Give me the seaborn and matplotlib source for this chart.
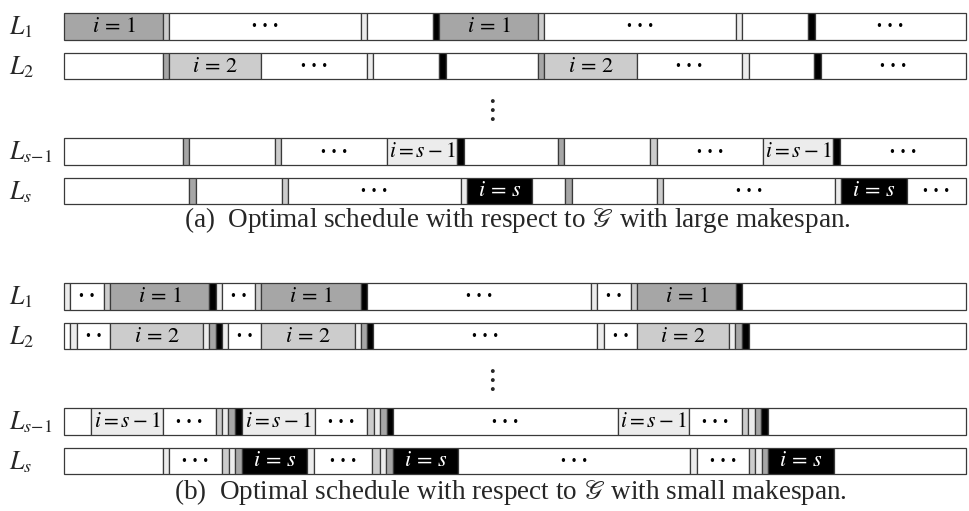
import numpy as np
import matplotlib
matplotlib.use("Agg")
import matplotlib.pyplot as plt
import seaborn as sns

# job shades: A = job 1, B = job 2, C = job s-1, K = job s, W = idle/other
shade = {"A": "#a6a6a6", "B": "#cccccc", "C": "#ececec", "K": "#000000", "W": "#ffffff"}

row_names = ["$L_1$", "$L_2$", "$L_{s\\!-\\!1}$", "$L_s$"]

# (a) large makespan: segment boundaries, fills and labels per machine
a_cuts = [
    [64, 163, 169, 361, 367, 433, 439, 538, 544, 736, 742, 808, 815, 966],
    [64, 163, 169, 261, 367, 373, 439, 446, 538, 544, 637, 742, 749, 814, 821, 966],
    [64, 183, 189, 275, 281, 387, 457, 464, 558, 564, 650, 657, 763, 833, 840, 966],
    [64, 189, 196, 282, 288, 461, 467, 532, 565, 572, 657, 663, 835, 841, 907, 966],
]
a_fill = [
    "ABWCWKABWCWKW",
    "WABWCWKWABWCWKW",
    "WAWBWCKWAWBWCKW",
    "WAWBWCKWAWBWCKW",
]
a_text = [
    ["i=1", "", "...", "", "", "", "i=1", "", "...", "", "", "", "..."],
    ["", "", "i=2", "...", "", "", "", "", "", "i=2", "...", "", "", "", "..."],
    ["", "", "", "", "...", "i=s-1", "", "", "", "", "", "...", "i=s-1", "", "..."],
    ["", "", "", "", "...", "", "i=s", "", "", "", "", "...", "", "i=s", "..."],
]

# (b) small makespan
b_cuts = [
    [64, 70, 104, 110, 209, 216, 222, 255, 261, 361, 367, 591, 597, 631, 637, 736, 742, 966],
    [64, 70, 77, 110, 203, 209, 216, 222, 228, 261, 355, 361, 367, 373, 597, 604, 637, 729, 735, 742, 749, 966],
    [64, 91, 163, 216, 222, 228, 235, 242, 315, 367, 374, 380, 387, 393, 618, 689, 742, 748, 755, 761, 768, 966],
    [64, 163, 169, 222, 229, 235, 242, 307, 314, 372, 380, 386, 393, 458, 690, 697, 749, 755, 762, 768, 834, 966],
]
b_fill = [
    "CWBAKCWBAKWCWBAKW",
    "WCWBCAKCWBCAKWCWBCAKW",
    "WCWBCAKCWBCAKWCWBCAKW",
    "WCWBCAKCWBCAKWCWBCAKW",
]
b_text = [
    ["", "..", "", "i=1", "", "", "..", "", "i=1", "", "...", "", "..", "", "i=1", "", ""],
    ["", "", "..", "i=2", "", "", "", "", "..", "i=2", "", "", "", "...", "", "..", "i=2", "", "", "", ""],
    ["", "i=s-1", "...", "", "", "", "", "i=s-1", "...", "", "", "", "", "...", "i=s-1", "...", "", "", "", "", ""],
    ["", "", "...", "", "", "", "i=s", "", "...", "", "", "", "i=s", "...", "", "...", "", "", "", "i=s", ""],
]

captions = [
    r"(a)  Optimal schedule with respect to $\mathscr{G}$ with large makespan.",
    r"(b)  Optimal schedule with respect to $\mathscr{G}$ with small makespan.",
]

sns.set_theme(style="white")
plt.rcParams["font.family"] = ["Liberation Serif", "DejaVu Serif"]
plt.rcParams["mathtext.fontset"] = "stix"

fig = plt.figure(figsize=(9.69, 5.11), dpi=100)
ax = fig.add_axes([0, 0, 1, 1])
ax.set_xlim(0, 969)
ax.set_ylim(511, 0)
ax.axis("off")

row_h = 26.5


def label_of(t):
    if t == "...":
        return "• • •"
    if t == "..":
        return "• •"
    if t == "i=s-1":
        return r"$i=s-1$"
    a, b = t.split("=")
    return r"$%s\,=\,%s$" % (a, b)


def draw_panel(cuts, fills, texts, ys):
    for cut, fill, txt, y in zip(cuts, fills, texts, ys):
        cut = np.array(cut)
        left = cut[:-1]
        width = np.diff(cut)
        ax.barh(y, width, left=left, height=row_h,
                color=[shade[c] for c in fill], edgecolor="#3a3a3a",
                linewidth=0.9, align="center")
        for l, w, c, t in zip(left, width, fill, txt):
            if not t:
                continue
            col = "white" if c == "K" else "black"
            if t.startswith("."):
                ax.text(l + w / 2, y + 0.5, label_of(t), ha="center", va="center",
                        fontsize=8.5, color=col, family="DejaVu Sans")
            else:
                fs = 15.5 if t == "i=s-1" else 16
                ax.text(l + w / 2, y + 1, label_of(t), ha="center", va="center",
                        fontsize=fs, color=col)


ys_a = [26.5, 66, 151.5, 191]
ys_b = [296.5, 336, 421.5, 461]
draw_panel(a_cuts, a_fill, a_text, ys_a)
draw_panel(b_cuts, b_fill, b_text, ys_b)

for ys in (ys_a, ys_b):
    for name, y in zip(row_names, ys):
        ax.text(9, y + 1, name, ha="left", va="center", fontsize=18.5)
    ax.text(490, (ys[1] + ys[2]) / 2 + 2, r"$\vdots$", ha="center", va="center", fontsize=22)

ax.text(517, 220, captions[0], ha="center", va="center", fontsize=19.5)
ax.text(510, 492, captions[1], ha="center", va="center", fontsize=19.5)

fig.savefig("out.png", dpi=100)
